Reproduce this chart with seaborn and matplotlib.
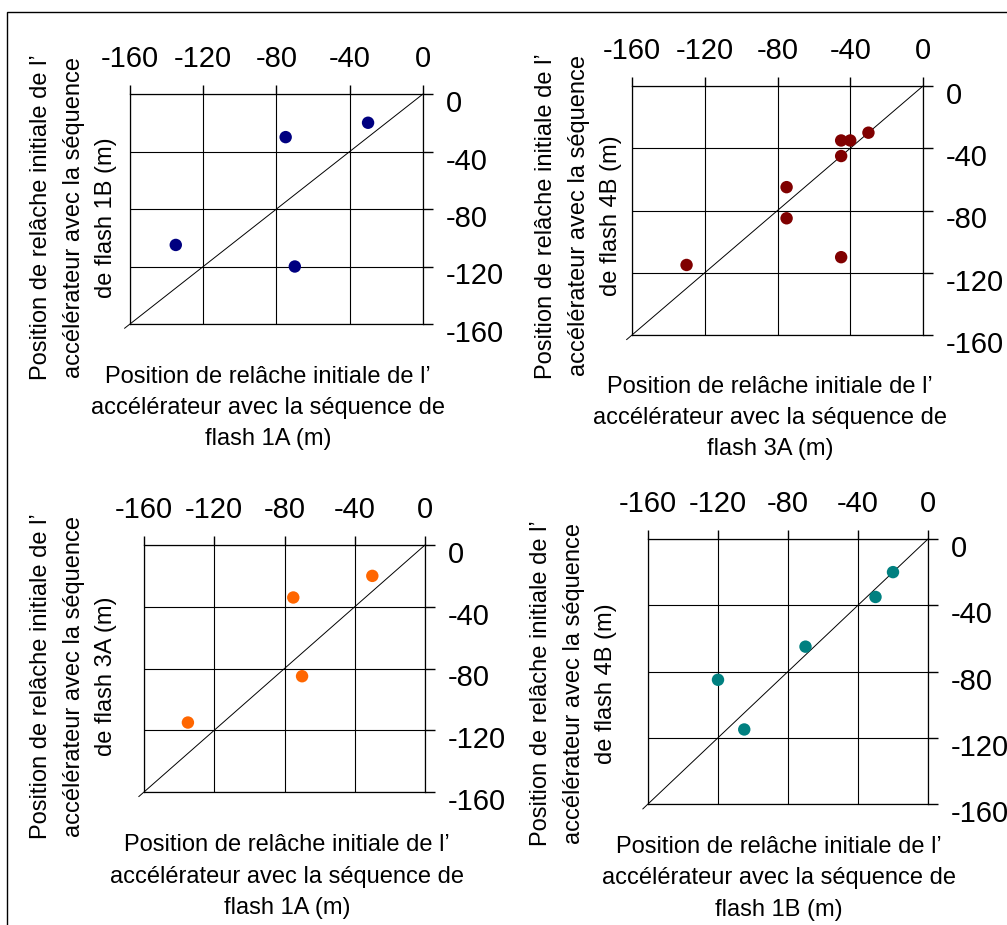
import matplotlib
matplotlib.use("Agg")
import matplotlib.pyplot as plt
import seaborn as sns
import pandas as pd
from matplotlib.transforms import ScaledTranslation
from matplotlib.patches import Rectangle

# ---------------- data ----------------
# Panel 1: 1B vs 1A
p1_x_1A = [-30, -75, -135, -70]
p1_y_1B = [-20, -30, -105, -120]
# Panel 2: 4B vs 3A
p2_x_3A = [-30, -45, -40, -45, -75, -75, -45, -130]
p2_y_4B = [-30, -35, -35, -45, -65, -85, -110, -115]
# Panel 3: 3A vs 1A
p3_x_1A = [-30, -75, -70, -135]
p3_y_3A = [-20, -34, -85, -115]
# Panel 4: 4B vs 1B
p4_x_1B = [-20, -30, -70, -120, -105]
p4_y_4B = [-20, -35, -65, -85, -115]

tick_values = [-160, -120, -80, -40, 0]
tick_labels = ["-160", "-120", "-80", "-40", "0"]
diag = [-163, 0]

xlabel_1A = "Position de relâche initiale de l’\naccélérateur avec la séquence de\nflash 1A (m)"
xlabel_3A = "Position de relâche initiale de l’\naccélérateur avec la séquence de\nflash 3A (m)"
xlabel_1B = "Position de relâche initiale de l’\naccélérateur avec la séquence de\nflash 1B (m)"
ylabel_1B = "Position de relâche initiale de l’\naccélérateur avec la séquence\nde flash 1B (m)"
ylabel_4B = "Position de relâche initiale de l’\naccélérateur avec la séquence\nde flash 4B (m)"
ylabel_3A = "Position de relâche initiale de l’\naccélérateur avec la séquence\nde flash 3A (m)"

colors = ["#000080", "#800000", "#FF6600", "#008080"]

# ---------------- style ----------------
sns.set_style("white")
plt.rcParams["font.family"] = ["Liberation Sans", "DejaVu Sans"]
plt.rcParams["text.color"] = "black"
plt.rcParams["axes.labelcolor"] = "black"
plt.rcParams["xtick.color"] = "black"
plt.rcParams["ytick.color"] = "black"

W, H = 1007, 925
fig = plt.figure(figsize=(W / 100, H / 100), dpi=100)

def px_rect(left, top, right, bottom):
    return [left / W, 1 - bottom / H, (right - left) / W, (bottom - top) / H]

panels = [
    dict(rect=px_rect(130, 94, 423, 324), x=p1_x_1A, y=p1_y_1B, c=colors[0],
         xl=xlabel_1A, yl=ylabel_1B, xlc=(0.471, -0.365), ylc=(-0.192, 0.463)),
    dict(rect=px_rect(632, 86, 923, 335), x=p2_x_3A, y=p2_y_4B, c=colors[1],
         xl=xlabel_3A, yl=ylabel_4B, xlc=(0.474, -0.333), ylc=(-0.183, 0.478)),
    dict(rect=px_rect(144, 545, 425, 792), x=p3_x_1A, y=p3_y_3A, c=colors[2],
         xl=xlabel_1A, yl=ylabel_3A, xlc=(0.509, -0.343), ylc=(-0.250, 0.467)),
    dict(rect=px_rect(648, 539, 928, 804), x=p4_x_1B, y=p4_y_4B, c=colors[3],
         xl=xlabel_1B, yl=ylabel_4B, xlc=(0.467, -0.280), ylc=(-0.265, 0.455)),
]

for p in panels:
    ax = fig.add_axes(p["rect"])
    df = pd.DataFrame({"x": p["x"], "y": p["y"]})
    ax.plot(diag, diag, color="black", lw=0.7, clip_on=False, zorder=2)
    sns.scatterplot(data=df, x="x", y="y", ax=ax, color=p["c"], s=80,
                    edgecolor="none", linewidth=0, zorder=3, clip_on=False)
    ax.set_xlim(-160, 0)
    ax.set_ylim(-160, 0)
    ax.set_xticks(tick_values)
    ax.set_xticklabels(tick_labels)
    ax.set_yticks(tick_values)
    ax.set_yticklabels(tick_labels)
    ax.xaxis.tick_top()
    ax.yaxis.tick_right()
    ax.tick_params(axis="x", direction="out", length=6.5, width=1, color="black",
                   labelsize=21, pad=8.5, labelcolor="black")
    ax.tick_params(axis="y", direction="out", length=7, width=1, color="black",
                   labelsize=21, pad=9.5, labelcolor="black")
    ax.grid(True, color="black", lw=0.8)
    ax.set_axisbelow(True)
    for s in ax.spines.values():
        s.set_visible(True)
        s.set_color("black")
        s.set_linewidth(0.9)
    off = ScaledTranslation(0, -0.07, fig.dpi_scale_trans)
    for lab in ax.get_yticklabels():
        lab.set_transform(lab.get_transform() + off)

    ax.set_xlabel(p["xl"], fontsize=17, linespacing=1.55, color="black")
    ax.set_ylabel(p["yl"], fontsize=17, linespacing=1.62, color="black")
    ax.xaxis.set_label_position("bottom")
    ax.yaxis.set_label_position("left")
    ax.xaxis.label.set_va("center")
    ax.yaxis.label.set_va("center")
    ax.xaxis.set_label_coords(*p["xlc"])
    ax.yaxis.set_label_coords(*p["ylc"])

fig.patches.append(Rectangle((7 / W, -0.1), 1.2, (H - 12) / H + 0.1,
                             transform=fig.transFigure, fill=False,
                             lw=1, ec="black", zorder=0))

fig.savefig("out.png", dpi=100)
